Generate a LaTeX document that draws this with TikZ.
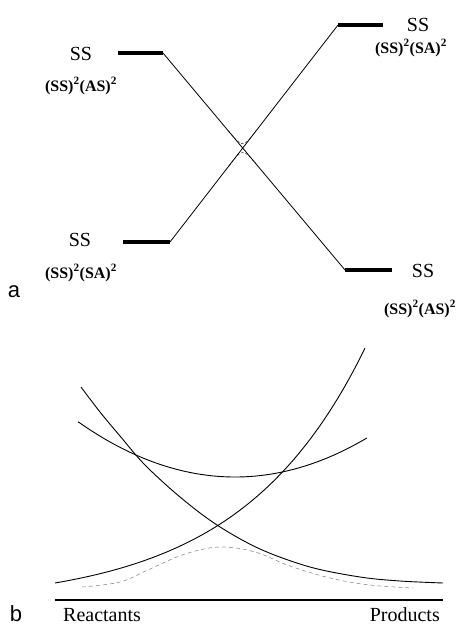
\documentclass[tikz,border=0pt]{standalone}
\usepackage{fontspec}
\setmainfont{Liberation Serif}
\newfontfamily\panelfont{Liberation Sans}
\usetikzlibrary{calc}
\begin{document}
\begin{tikzpicture}[x=1pt,y=-1pt,
  levelbar/.style={line width=4pt},
  corr/.style={line width=0.8pt},
  avoid/.style={line width=0.4pt, dash pattern=on 2.5pt off 2pt},
  statelab/.style={font=\fontsize{20}{20}\selectfont, inner sep=0pt},
  configlab/.style={font=\fontsize{16}{16}\selectfont\bfseries, inner sep=0pt},
  panellab/.style={font=\panelfont\fontsize{22}{22}\selectfont, inner sep=0pt},
  axislab/.style={font=\fontsize{20}{20}\selectfont, inner sep=0pt},
  curve/.style={line width=0.9pt},
  dcurve/.style={line width=0.5pt, gray, dash pattern=on 4pt off 3pt},
]
\useasboundingbox (0,0) rectangle (462,626);
% ---------- panel a ----------
\coordinate (TLa) at (118,53);  \coordinate (TLb) at (163,53);
\coordinate (BLa) at (123,242); \coordinate (BLb) at (170,242);
\coordinate (TRa) at (338,25);  \coordinate (TRb) at (383,25);
\coordinate (BRa) at (345,270); \coordinate (BRb) at (392,270);
\draw[levelbar] (TLa) -- (TLb);
\draw[levelbar] (BLa) -- (BLb);
\draw[levelbar] (TRa) -- (TRb);
\draw[levelbar] (BRa) -- (BRb);
\draw[corr] (TLb) -- (BRa);
\draw[corr] (BLb) -- (TRa);
\coordinate (X) at ($(TLb)!0.438!(BRa)$);
\coordinate (U1) at ($(TLb)!0.3594!(BRa)$);
\coordinate (U2) at ($(BLb)!0.5115!(TRa)$);
\coordinate (L1) at ($(BLb)!0.3502!(TRa)$);
\coordinate (L2) at ($(TLb)!0.5207!(BRa)$);
\draw[avoid] (U1) .. controls (X) .. (U2);
\draw[avoid] (L1) .. controls (X) .. (L2);
\node[statelab] (sTL) at (81,54) {SS};
\node[configlab] (cTL) at (81,86) {(SS)\textsuperscript{2}(AS)\textsuperscript{2}};
\node[statelab] (sBL) at (80,240) {SS};
\node[configlab] (cBL) at (81,273) {(SS)\textsuperscript{2}(SA)\textsuperscript{2}};
\node[statelab] (sTR) at (418,25) {SS};
\node[configlab] (cTR) at (411,48) {(SS)\textsuperscript{2}(SA)\textsuperscript{2}};
\node[statelab] (sBR) at (423,271) {SS};
\node[configlab] (cBR) at (420,309) {(SS)\textsuperscript{2}(AS)\textsuperscript{2}};
\node[panellab] (pa) at (14,292) {a};
% ---------- panel b ----------
% rising (reactant-like) curve
\draw[curve] plot[domain=55:365, samples=80] (\x, {583-21.5*(exp(0.008*(\x-55))-1)});
% descending (product-like) curve
\draw[curve] plot[smooth, tension=0.55] coordinates {(81,387) (100,412) (120,436) (145,465) (180,497) (217,525) (260,549) (310,567) (360,577) (400,581) (443,583)};
% flat curve
\draw[curve] plot[domain=78:367, samples=60] (\x, {477-0.00225*(\x-235)*(\x-235)});
% dashed adiabatic curve
\draw[dcurve] plot[smooth, tension=0.6] coordinates {(82,587) (120,582) (150,569) (185,554) (220,547) (255,552) (290,566) (330,578) (370,585) (413,588)};
\coordinate (base1) at (55,600); \coordinate (base2) at (443,600);
\draw[line width=1.6pt] (base1) -- (base2);
\node[axislab, anchor=base west] (react) at (63,621) {Reactants};
\node[axislab, anchor=base east] (prod) at (440,621) {Products};
\node[panellab, anchor=base] (pb) at (16,621) {b};
\end{tikzpicture}
\end{document}
